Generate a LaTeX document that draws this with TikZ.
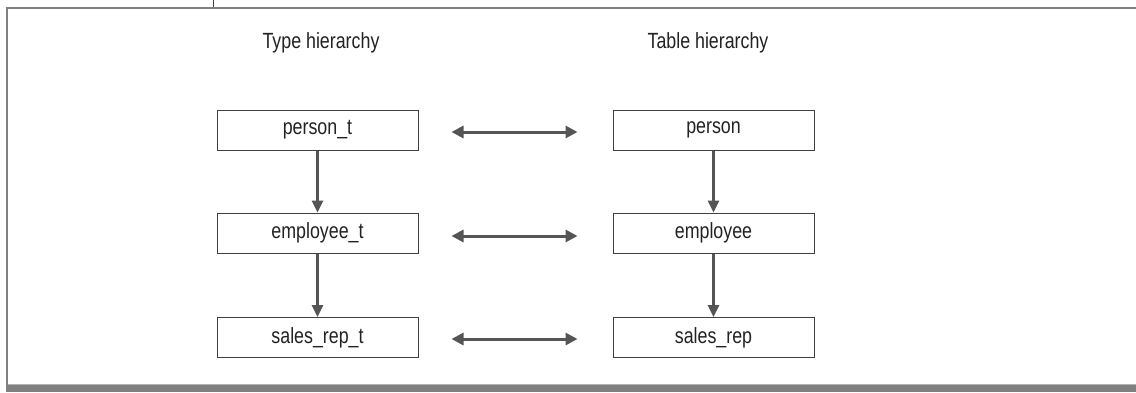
\documentclass[tikz,border=0pt]{standalone}
\usepackage{fontspec}
\setmainfont[FakeStretch=0.81]{Liberation Sans}
\usetikzlibrary{arrows.meta}
\definecolor{boxline}{HTML}{404040}
\definecolor{arrowcol}{HTML}{555555}
\definecolor{framecol}{HTML}{808080}
\definecolor{textcol}{HTML}{222222}
\tikzset{
  box/.style={draw=boxline, line width=1pt, minimum width=201pt, minimum height=40pt, inner sep=0pt, text=textcol, font=\fontsize{22}{26}\selectfont},
  title/.style={inner sep=0pt, text=textcol, font=\fontsize{22}{26}\selectfont},
  varrow/.style={draw=arrowcol, line width=2.5pt, -{Triangle[length=12pt,width=11pt]}},
  harrow/.style={draw=arrowcol, line width=3pt, {Triangle[length=12pt,width=12pt]}-{Triangle[length=12pt,width=12pt]}, shorten <=33pt, shorten >=35pt},
}
\begin{document}
\begin{tikzpicture}[x=1pt,y=-1pt]
\useasboundingbox (0,0) rectangle (1136,392);
% frame
\fill[framecol] (6,7) rectangle (1136,9);
\fill[framecol] (6,7) rectangle (8,385);
\fill[framecol] (6,385) rectangle (1136,392);
\fill[framecol!60] (8,384) rectangle (1136,385);
\draw[boxline, line width=1pt] (213.5,0) -- (213.5,7);
% titles
\node[title] (tt) at (321,43) {Type hierarchy};
\node[title] (tb) at (708,43) {Table hierarchy};
% boxes
\node[box] (pt) at (317.5,130) {person\_t};
\node[box] (et) at (317.5,233) {employee\_t};
\node[box] (st) at (317.5,337.5) {sales\_rep\_t};
\node[box] (p) at (713.5,130) {person};
\node[box] (e) at (713.5,233) {employee};
\node[box] (s) at (713.5,337.5) {sales\_rep};
% vertical arrows
\draw[varrow] (pt.south) -- (et.north);
\draw[varrow] (et.south) -- (st.north);
\draw[varrow] (p.south) -- (e.north);
\draw[varrow] (e.south) -- (s.north);
% horizontal arrows
\draw[harrow] ([yshift=-2pt]pt.east) -- ([yshift=-2pt]p.west);
\draw[harrow] ([yshift=-3pt]et.east) -- ([yshift=-3pt]e.west);
\draw[harrow] ([yshift=-1.5pt]st.east) -- ([yshift=-1.5pt]s.west);
\end{tikzpicture}
\end{document}
